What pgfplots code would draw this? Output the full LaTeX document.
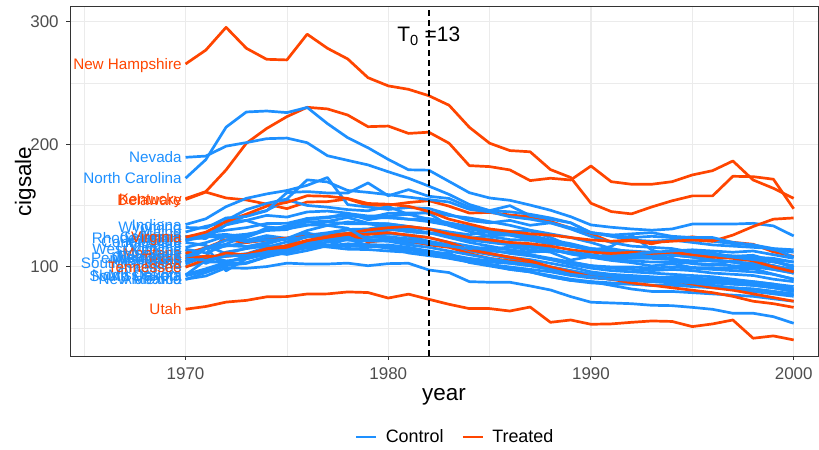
\documentclass[border=0pt]{standalone}
\usepackage{fontspec}
\setmainfont{Liberation Sans}
\usepackage{pgfplots}
\usepackage{pgfplotstable}
\pgfplotsset{compat=1.18}
\definecolor{cblue}{HTML}{1E90FF}
\definecolor{cred}{HTML}{FF4500}
\definecolor{gridc}{HTML}{EBEBEB}
\definecolor{axc}{HTML}{333333}
\definecolor{tickc}{HTML}{4D4D4D}

\pgfplotstableread{
state 1970 1971 1972 1973 1974 1975 1976 1977 1978 1979 1980 1981 1982 1983 1984 1985 1986 1987 1988 1989 1990 1991 1992 1993 1994 1995 1996 1997 1998 1999 2000
Alabama 89.8 95.4 101.1 102.9 108.2 111.7 116.2 117.1 123 121.4 123.2 119.6 119.1 116.3 113 114.5 116.3 114 112.1 105.6 108.6 107.9 109.1 108.5 107.1 102.6 101.4 104.9 106.2 100.7 96.2
Arkansas 100.3 104.1 103.9 108 109.7 114.8 119.1 122.6 127.3 126.5 131.8 128.7 127.4 128 123.1 125.8 126 122.3 121.5 118.3 113.1 116.8 126 113.8 108.8 113 110.7 108.7 109.5 104.8 99.4
Colorado 124.8 125.5 134.3 137.9 132.8 131 134 136.7 135.3 135.2 133 130.7 127.9 124 120 117 114 110 106 102 99 97 96 95 94 93 92 90 88 86 84
Connecticut 120 117.6 110.8 109.3 112.4 110.2 113.4 117.3 117.5 117.4 116.1 111.4 109.2 107.4 104.3 102 98 96 92 89 88 85 82 80 80 79 78 77 76 74 72
Delaware 155 161.1 156.3 154.7 151.3 147.6 153 153.3 155.5 150.2 150.5 152.6 154.1 149.6 144 144.5 142.4 141 137.1 131.7 127.2 120.3 121.5 118.9 122.5 124.6 122.4 120.1 118.5 112.3 108.7
Georgia 109.9 115.7 117 119.8 123.7 122.9 125.9 127.9 130.6 131 134 131.7 131.2 128.6 126.3 128.8 129 129.3 124.1 117.1 113.8 109.6 109.8 109.2 109.5 108.3 104.6 104.4 101.6 101.2 94.7
Idaho 102.4 108.5 126.1 121.8 125.6 123.3 125.1 125 122.8 117.5 115.2 114.1 111.5 111.3 103.6 100.8 98 96 93 90 88 87 86 85 85 84 83 82 80 78 76
Illinois 124.8 125.6 126.6 124.4 131.9 131.8 134.4 134 136.7 135.3 135.2 133 130.7 127.9 124 122.9 119.3 117.7 114.7 110.5 107.9 105.3 103.5 100.8 102.7 99.5 99.3 98.9 98.6 94 90
Indiana 134.6 139.3 149.2 156 159.6 162.4 166.6 173 150.9 148.9 146.9 148.5 147.7 143 137.8 136 138 134 136 132 128 126 124 125 124 122 121 119 118 115 108
Iowa 108.5 108.4 109.4 110.6 116.1 120.5 124.4 125.5 127.1 124.2 124.7 123 120 117 113 110 107 104 100 97 94 93 92 91 92 91 90 89 88 86 82
Kansas 114 102.8 111 115.2 118.6 123.4 127.7 124.3 127.5 129.5 128 125 121 118 114 111 108 106 103 100 96 94 93 92 91 90 89 88 86 84 81
Kentucky 155.8 161.5 179.2 201 213 222.7 230.3 229 224 214.5 215 209 210 201 182.7 181.9 179.2 170.5 172.4 171 182.4 169.6 167.5 167.5 169.6 175.1 178.6 186.5 171 164.2 156
Louisiana 115.9 119.8 125.3 126.7 129.9 133.6 139.6 140 142.7 140.1 143.8 144 143.9 133.7 128.9 125 122.3 121.7 118.8 117.4 114.5 108.4 109 109 112.8 112.8 111.4 108 107.9 105.3 99.9
Maine 128.5 133.2 136.5 138 142.1 140.7 144.9 145.6 143.9 138.5 141.2 138.9 139.5 136 133 130 128 126 122 119 115 113 112 111 110 108 106 104 101 98 95
Minnesota 104.3 116.4 96.8 106.8 110.6 111.5 116.7 117.2 118.9 118.3 117.7 115 112 108 104 102 99 96 92 89 87 86 86 85 86 85 84 83 82 80 77
Mississippi 93.4 105.4 112.1 115 117.1 116.8 120.9 122.1 124.9 123.9 127 126 124 120 117 114 111 109 106 104 101 100 100 99 100 99 98 97 96 94 90
Missouri 121.3 127.6 130 132.1 135.4 135.6 139.5 140.8 141.8 140.2 140.1 139 137 134 131 128 126 124 120 117 115 114 113 112 112 111 110 109 108 106 104
Montana 111.2 115.6 122.2 119.9 121.9 123.7 124.9 127 127.2 120.3 122 121.5 118 116 111 107 105 103 100 96 92 90 89 88 89 86 83 81 78 75 72
Nebraska 108.1 108.6 104.9 106.6 110.5 114.1 118.1 117.7 117.4 116.3 118 116 113 110 107 105 103 101 98 95 92 90 89 88 88 88 87 86 85 83 80
Nevada 189.5 190.5 198.6 201.5 204.7 205.2 201.4 190.8 187 183.3 177.7 172.4 166 159.2 151 146 145 143 140 136 128 125 122 121 122 120 118 117 116 115 114
NewHampshire 265.7 277 295.6 278.5 269.5 269 290 278.5 269.8 254.5 247.8 245 239.8 232 214 201 195 194 179.5 173 152 145.2 143.3 149 154 158 158 174 173.7 171.6 147.5
NewMexico 90 92.6 99.3 98.9 100.3 103.1 102.4 102.4 103.1 101 102.7 103 97.5 95.4 88 87.5 87.5 84.5 81.2 75.8 71.2 70.6 70 68.7 68.4 67 65.4 62.2 62.2 59.4 54
NorthCarolina 172.4 187.6 214.1 226.5 227.3 226 230.2 217 205.5 197.3 187.8 179.3 179 169.8 160.6 156.3 154.4 150.5 146.3 141 134.3 132.4 131 130 131 135 135 135 135.6 133.5 125.3
NorthDakota 93.8 98.5 103.8 108.7 110.5 117.9 125.4 122.2 121.9 121.3 121 118 116 113 110 107 104 102 100 97 94 92 91 90 90 89 88 87 86 84 81
Ohio 121.6 124.6 124.4 120.5 122.1 122.5 124.6 127.3 130.2 128.4 130.6 129 128 126 122 120 118 116 114 111 108 106 105 104 104 103 102 101 100 98 95
Oklahoma 108.4 115.4 121.7 124.1 130.5 132.9 138.6 140.4 143.6 141.6 141.6 143 139 135 131 129 127 124 120 117 114 112 112 111 110 110 109 108 108 107 104
Pennsylvania 107.3 106.3 109 110.7 114.2 114.6 118.8 120.1 122.3 121.5 122.2 121 120 118 114 113 112 110 107 104 101 99 98 97 98 97 95 94 93 90 88
RhodeIsland 123.9 123.2 134.4 142 146.1 154.7 150.2 148.8 146.8 145.8 149.3 142.8 145 142 140 137 134 130 127 124 120 115 112 111 110 108 106 104 102 100 97
SouthCarolina 103.6 115 118.7 125.5 129.7 130.5 136.8 137.2 140.4 135.7 135.1 133 131 127 122 121 120 118 115 111 109 107 107 107 106 105 105 104 103 101 98
SouthDakota 92.7 96.7 103 103.5 108.4 113.5 117.8 116.3 114.5 114.2 113 112 110 107 104 102 100 98 96 93 91 90 90 89 89 88 87 86 85 83 80
Tennessee 99.8 106.3 111.5 109.7 114.8 117.4 121.7 124.6 127.3 130.2 132 133 131 127 124 122 120 119 117 114 112 111 112 111 112 110 108 107 105 100 96
Texas 106.4 108.9 108.6 110.4 114.7 116 121.4 124.2 126.6 126.6 128 126 124 120 114 111 108 105 100 96 92 90 87 85 83 81 79 76 72 70 67
Utah 65.5 67.7 71.3 72.7 75.6 75.8 77.9 78 79.6 79.1 74.6 77.8 73.6 69.5 66 66 64 67.3 54.8 56.7 53.2 53.5 54.8 55.9 55.5 51.3 53.5 56.7 41.8 43.7 40.4
Vermont 122.6 124.4 138 146.8 151.8 155.5 171.1 169.4 162.4 160.9 159 157 155 153 147 145 141 139 136 131 125 120 117 116 115 112 110 108 106 104 101
Virginia 124.3 128.4 137 143.1 149.6 152.7 158.1 157.7 155.9 151.8 151.2 149.5 145.3 139 135 131 129 127 126 124 122 121 122 120 121 122 121 126 133 139 140
WestVirginia 114.5 111.5 117.5 116.6 119.9 123.2 129.7 133.9 131.6 122.1 122.3 121.5 119 117 115 116 114 112 113 112 110 108 110 112 113 114 113 112 113 110 107
Wisconsin 106.4 105.4 108.8 109.5 111.8 113.5 115.4 117.2 116.7 117.1 116.6 114 113 110 106 104 103 101 98 94 92 90 89 88 88 87 85 83 82 80 78
Wyoming 132.2 131.7 140 141.2 145.8 160.7 161.5 160.4 160.3 168.6 158.1 163.1 157.7 155.9 148.8 146 150 142 139 136 128 126 127 128 125 124 124 120 118 114 112
}\rawdata
\pgfplotstabletranspose[colnames from=state]\tdata\rawdata

\newcommand{\st}[3]{%
  \addplot[color=#1, line width=2.7bp, line join=round, forget plot]
    table[x=colnames, y=#2] {\tdata}
    node[pos=0, anchor=base east, xshift=-2.5bp, yshift=-5.5bp, inner sep=0pt,
         text=#1, font=\fontsize{15.3}{17}\selectfont] {#3};%
}

\begin{document}
\begin{tikzpicture}
\useasboundingbox (0,0) rectangle (819bp,450bp);
\begin{axis}[
  at={(70bp,94bp)}, anchor=south west,
  width=748bp, height=349bp, scale only axis,
  xmin=1964.3, xmax=2001.2, ymin=27.3, ymax=312.2,
  xtick={1970,1980,1990,2000}, ytick={100,200,300},
  minor xtick={1965,1975,1985,1995}, minor ytick={50,150,250},
  grid=both,
  major grid style={gridc, line width=1.1bp},
  minor grid style={gridc, line width=0.55bp},
  axis line style={axc, line width=1bp},
  tick style={axc, line width=1bp},
  tick align=outside, major tick length=3.7bp, minor tick length=0pt,
  xtick pos=bottom, ytick pos=left,
  ticklabel style={font=\fontsize{17}{20}\selectfont, text=tickc},
  yticklabel style={inner sep=0pt, xshift=-7.5bp},
  xticklabel style={inner sep=0pt, yshift=-7.3bp},
  /pgf/number format/assume math mode=true,
  /pgf/number format/1000 sep={},
  every axis x label/.style={at={(axis description cs:0.5,-0.1261)}, anchor=base, font=\fontsize{22.5}{27}\selectfont},
  every axis y label/.style={at={(axis description cs:-0.0521,0.5)}, anchor=base, rotate=90, font=\fontsize{22.5}{27}\selectfont},
  xlabel={year}, ylabel={cigsale},
  clip=false,
  legend style={at={(axis description cs:0.515,-0.232)}, anchor=center, draw=none, fill=none,
    font=\fontsize{18}{21}\selectfont, legend columns=2,
    /tikz/every odd column/.append style={column sep=6bp},
    /tikz/every even column/.append style={column sep=16bp}},
  legend image code/.code={\draw[#1] (0bp,0bp) -- (20bp,0bp);},
]
\addlegendimage{cblue, line width=2.7bp}
\addlegendentry{Control}
\addlegendimage{cred, line width=2.7bp}
\addlegendentry{Treated}

\st{cblue}{Alabama}{Alabama}
\st{cblue}{Arkansas}{Arkansas}
\st{cblue}{Colorado}{Colorado}
\st{cblue}{Connecticut}{Connecticut}
\st{cred}{Delaware}{Delaware}
\st{cblue}{Georgia}{Georgia}
\st{cblue}{Idaho}{Idaho}
\st{cblue}{Illinois}{Illinois}
\st{cblue}{Indiana}{Indiana}
\st{cblue}{Iowa}{Iowa}
\st{cblue}{Kansas}{Kansas}
\st{cred}{Kentucky}{Kentucky}
\st{cblue}{Louisiana}{Louisiana}
\st{cblue}{Maine}{Maine}
\st{cblue}{Minnesota}{Minnesota}
\st{cblue}{Mississippi}{Mississippi}
\st{cblue}{Missouri}{Missouri}
\st{cred}{Montana}{Montana}
\st{cblue}{Nebraska}{Nebraska}
\st{cblue}{Nevada}{Nevada}
\st{cred}{NewHampshire}{New Hampshire}
\st{cblue}{NewMexico}{New Mexico}
\st{cblue}{NorthCarolina}{North Carolina}
\st{cblue}{NorthDakota}{North Dakota}
\st{cblue}{Ohio}{Ohio}
\st{cblue}{Oklahoma}{Oklahoma}
\st{cblue}{Pennsylvania}{Pennsylvania}
\st{cblue}{RhodeIsland}{Rhode Island}
\st{cblue}{SouthCarolina}{South Carolina}
\st{cblue}{SouthDakota}{South Dakota}
\st{cred}{Tennessee}{Tennessee}
\st{cred}{Texas}{Texas}
\st{cred}{Utah}{Utah}
\st{cblue}{Vermont}{Vermont}
\st{cred}{Virginia}{Virginia}
\st{cblue}{WestVirginia}{West Virginia}
\st{cblue}{Wisconsin}{Wisconsin}
\st{cblue}{Wyoming}{Wyoming}

\draw[black, line width=1.4bp, dash pattern=on 6bp off 4bp] (axis cs:1982,27.3) -- (axis cs:1982,312.2);
\node[anchor=base, font=\fontsize{21}{25}\selectfont] at (axis cs:1982,283.7) {T\textsubscript{0} =13};
\end{axis}
\end{tikzpicture}
\end{document}
